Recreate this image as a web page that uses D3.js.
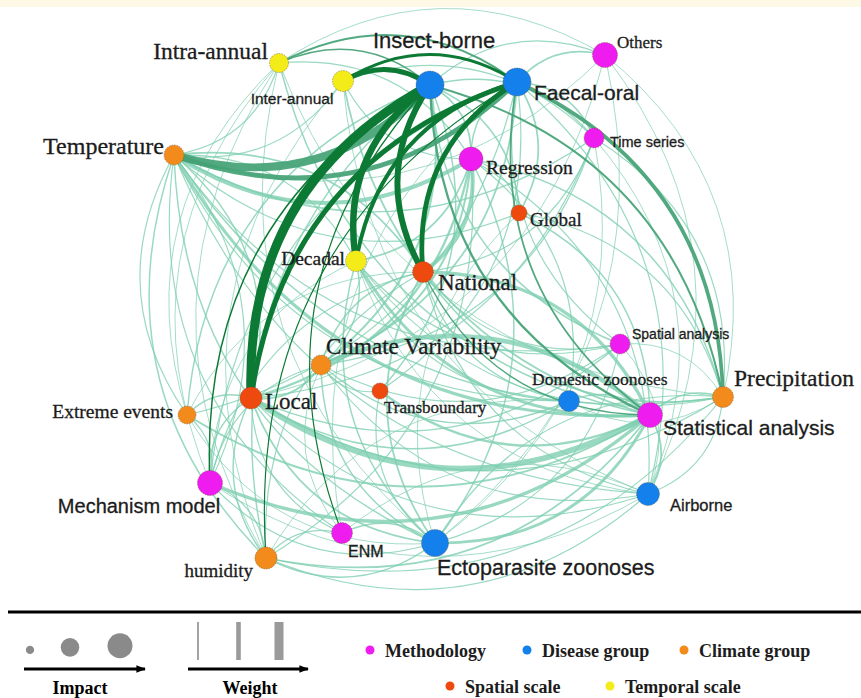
<!DOCTYPE html>
<html>
<head>
<meta charset="utf-8">
<script src="https://cdn.jsdelivr.net/npm/d3@7"></script>
<style>
  html, body { margin: 0; padding: 0; background: #ffffff; }
  svg { display: block; }
</style>
</head>
<body>
<svg id="chart" width="861" height="698"></svg>
<script>
// ---- Nodes ----------------------------------------------------------------
const nodeIds = ["IA","ER","IB","FO","OT","TS","RG","GL","TP","DC","NA","CV",
                 "LO","TB","EE","DZ","SA","PR","ST","AB","MM","EN","EZ","HU"];
const nodeNames = ["Intra-annual","Inter-annual","Insect-borne","Faecal-oral","Others",
  "Time series","Regression","Global","Temperature","Decadal","National",
  "Climate Variability","Local","Transboundary","Extreme events","Domestic zoonoses",
  "Spatial analysis","Precipitation","Statistical analysis","Airborne",
  "Mechanism model","ENM","Ectoparasite zoonoses","humidity"];
const nodeGroups = ["Temporal","Temporal","Disease","Disease","Method","Method","Method",
  "Spatial","Climate","Temporal","Spatial","Climate","Spatial","Spatial","Climate",
  "Disease","Method","Climate","Method","Disease","Method","Method","Disease","Climate"];
// impact of each node (drives the circle area)
const nodeImpact = [46,56,100,100,80,51,73,33,51,56,56,51,62,33,41,56,51,56,80,67,80,56,93,62];
// force-layout coordinates
const layoutX = [-322,-194,-20,154,330,308,62,158,-532,-168,-34,-238,
                 -378,-120,-506,258,360,566,420,416,-460,-196,-10,-348];
const layoutY = [494,458,450,456,510,344,302,194,310,98,76,-110,
                 -176,-162,-210,-182,-68,-174,-210,-368,-346,-446,-466,-496];

// ---- Links: [source, target, weight, class] (class 3 = strongest) --------
const links = [
  // strongest links
  ["LO","IB",30,3],["DC","IB",21,3],["NA","IB",19,3],["LO","FO",16,3],["NA","FO",15,3],
  ["DC","FO",12,3],["ER","IB",15,3],["ER","FO",8,3],["MM","IB",3,3],["EN","IB",2,3],
  ["HU","FO",2,3],
  // intermediate links
  ["IB","TP",26,2],["FO","TP",15,2],["FO","PR",11,2],["IB","PR",5,2],["ST","IB",6,2],
  ["ST","FO",4,2],["IA","FO",4,2],["IA","IB",3,2],["ST","NA",3,2],
  // Statistical analysis
  ["ST","LO",18,1],["CV","ST",14,1],["ST","MM",10,1],["ST","TP",9,1],["ST","EZ",8,1],
  ["NA","ST",10,1],["ST","DC",8,1],["ST","TB",6,1],["ST","EE",5,1],["ST","HU",4,1],
  ["ST","ER",4,1],["ST","IA",3,1],["DZ","ST",3,1],["ST","AB",4,1],["ST","PR",3,1],
  ["GL","ST",3,1],
  // Regression
  ["RG","NA",12,1],["RG","LO",6,1],["RG","CV",5,1],["RG","TP",12,1],["RG","DC",4,1],
  ["IB","RG",4,1],["RG","FO",3,1],["RG","EZ",3,1],["RG","PR",3,1],["RG","HU",2,1],
  ["RG","ER",2,1],["IA","RG",2,1],["RG","GL",2,1],["RG","DZ",2,1],["RG","AB",2,1],
  // Time series
  ["FO","TS",4,1],["IB","TS",3,1],["TS","TP",3,1],["TS","LO",2,1],["TS","NA",2,1],
  ["TS","PR",2,1],["TS","CV",2,1],["ER","TS",2,1],["TS","AB",1,1],["TS","EZ",1,1],
  // Others
  ["FO","OT",4,1],["IB","OT",2,1],["OT","AB",1,1],["OT","LO",1,1],["OT","TP",1,1],
  ["OT","PR",1,1],["OT","EZ",1,1],["IA","OT",1,1],
  // Spatial analysis
  ["SA","IB",3,1],["SA","FO",2,1],["SA","LO",3,1],["SA","NA",2,1],["SA","CV",2,1],
  ["SA","TP",2,1],["SA","EZ",2,1],["SA","PR",1,1],["SA","AB",1,1],["SA","DC",2,1],
  // Mechanism model
  ["MM","FO",2,1],["MM","LO",3,1],["TP","MM",2,1],["EE","MM",2,1],["MM","HU",2,1],
  ["MM","CV",2,1],["EZ","MM",2,1],["AB","MM",1,1],["MM","IA",1,1],["MM","DC",1,1],
  ["MM","NA",2,1],
  // ENM
  ["EN","EZ",3,1],["EN","LO",2,1],["HU","EN",2,1],["EN","TP",2,1],["EN","CV",1,1],
  ["EN","FO",1,1],["EN","AB",1,1],
  // disease groups
  ["EZ","LO",4,1],["EZ","CV",3,1],["EZ","TP",3,1],["EZ","HU",3,1],["EZ","NA",4,1],
  ["EZ","DC",3,1],["EZ","PR",2,1],["EZ","EE",1,1],["EZ","TB",2,1],["EZ","GL",1,1],
  ["EZ","IA",1,1],
  ["AB","LO",2,1],["AB","TP",2,1],["AB","HU",2,1],["AB","CV",2,1],["AB","NA",2,1],
  ["PR","AB",2,1],["AB","DC",1,1],["AB","ER",1,1],["FO","AB",2,1],
  ["DZ","LO",3,1],["DZ","CV",3,1],["DZ","TP",2,1],["DZ","NA",2,1],["PR","DZ",1,1],
  ["HU","DZ",1,1],["DZ","DC",2,1],
  ["IB","CV",5,1],["HU","IB",3,1],["EE","IB",3,1],["IB","GL",3,1],["IB","TB",3,1],
  ["FO","CV",4,1],["FO","EE",2,1],["FO","GL",4,1],["FO","TB",2,1],
  // climate with spatial / temporal scales
  ["TP","LO",3,1],["TP","NA",4,1],["TP","DC",2,1],["IA","TP",2,1],["ER","TP",2,1],
  ["CV","LO",5,1],["CV","NA",3,1],["DC","CV",3,1],["PR","LO",3,1],["PR","NA",3,1],
  ["PR","DC",2,1],["HU","LO",3,1],["HU","NA",2,1],["EE","LO",3,1],["EE","NA",1,1],
  ["PR","IA",1,1],["HU","ER",1,1],["TB","CV",2,1],["GL","TP",2,1],["GL","PR",2,1],
  ["EE","IA",1,1],["HU","IA",1,1],
  // climate with climate
  ["HU","TP",3,1],["PR","TP",3,1],["EE","TP",2,1],["PR","HU",2,1]
];

// ---- Legend content --------------------------------------------------------
const groupKeys   = ["Method","Disease","Climate","Spatial","Temporal"];
const groupLabels = ["Methodology","Disease group","Climate group","Spatial scale","Temporal scale"];
const impactSteps = [8, 40, 73];
const weightSteps = [3, 12, 26];

// ---- Styles ----------------------------------------------------------------
const groupColor = d3.scaleOrdinal().domain(groupKeys)
  .range(["#ee1cee","#1480ec","#f28a1c","#ee4a10","#f4ec18"]);
const linkColor = d3.scaleOrdinal().domain([1,2,3]).range(["#7cceb0","#43a275","#0c7a34"]);
const linkOpacity = d3.scaleOrdinal().domain([1,2,3]).range([0.78,0.92,1]);
const SERIF = "'Liberation Serif','Times New Roman',serif";
const SANS  = "'Liberation Sans',Arial,sans-serif";
// label placement: [dx, dy, anchor, family, size]
const labelStyle = {
  IA:[-11,-4,"end",SERIF,23.5], ER:[-51,23,"middle",SANS,15.5], IB:[-57,-37,"start",SANS,22],
  FO:[17,18,"start",SANS,21], OT:[12,-7,"start",SERIF,17], TS:[16,9,"start",SANS,14.5],
  RG:[15,15,"start",SERIF,19.5], GL:[11,13,"start",SERIF,19], TP:[-10,-1,"end",SERIF,24],
  DC:[-11,4,"end",SERIF,19.5], NA:[15,18,"start",SERIF,23], CV:[5,-11,"start",SERIF,23],
  LO:[14,11,"start",SERIF,23], TB:[4,22,"start",SERIF,17], EE:[-14,3,"end",SERIF,19.5],
  DZ:[-37,-16,"start",SERIF,17.5], SA:[12,-5,"start",SANS,14], PR:[11,-11,"start",SERIF,23.5],
  ST:[13,20,"start",SANS,21], AB:[22,17,"start",SANS,16.5], MM:[-71,30,"middle",SANS,20],
  EN:[6,24,"start",SANS,16], EZ:[2,32,"start",SANS,21.5], HU:[-13,19,"end",SERIF,19]
};

// ---- Scales ----------------------------------------------------------------
const svg = d3.select("#chart");
const x = d3.scaleLinear().domain([-880, 842]).range([0, 861]);
const y = d3.scaleLinear().domain([620, -776]).range([0, 698]);
const r = d3.scaleSqrt().domain([0, 100]).range([0, 14]);
const w = d3.scaleLinear().domain([1, 30]).range([0.9, 9]);

const nodes = nodeIds.map((id, i) => ({
  id, name: nodeNames[i], group: nodeGroups[i], impact: nodeImpact[i],
  px: x(layoutX[i]), py: y(layoutY[i])
}));
const byId = new Map(nodes.map(n => [n.id, n]));

// top band
svg.append("rect").attr("x", 0).attr("y", 0).attr("width", 861).attr("height", 7)
  .attr("fill", "#fdf9e6");

// ---- Links (curved clockwise from source to target) -----------------------
const linkData = links.map(([s, t, wt, c]) => ({ s: byId.get(s), t: byId.get(t), wt, c }))
  .sort((a, b) => a.c - b.c || a.wt - b.wt);

function curve(d) {
  const x1 = d.s.px, y1 = d.s.py, x2 = d.t.px, y2 = d.t.py;
  const dx = x2 - x1, dy = y2 - y1, k = 0.31;
  const cx = (x1 + x2) / 2 + dy * k, cy = (y1 + y2) / 2 - dx * k;
  return `M${x1},${y1}Q${cx},${cy} ${x2},${y2}`;
}

svg.append("g").attr("fill", "none").attr("stroke-linecap", "round")
  .selectAll("path").data(linkData).join("path")
  .attr("d", curve)
  .attr("stroke", d => linkColor(d.c))
  .attr("stroke-opacity", d => linkOpacity(d.c))
  .attr("stroke-width", d => w(d.wt));

// ---- Nodes -----------------------------------------------------------------
svg.append("g").selectAll("circle").data(nodes).join("circle")
  .attr("cx", d => d.px).attr("cy", d => d.py).attr("r", d => r(d.impact))
  .attr("fill", d => groupColor(d.group))
  .attr("stroke", "#5b4a28").attr("stroke-opacity", 0.55)
  .attr("stroke-width", 0.8).attr("stroke-dasharray", "1.6,1");

// ---- Labels ----------------------------------------------------------------
svg.append("g").attr("fill", "#1c1c1c")
  .attr("stroke", "#1c1c1c").attr("stroke-width", 0.3)
  .selectAll("text").data(nodes).join("text")
  .attr("x", d => d.px + labelStyle[d.id][0])
  .attr("y", d => d.py + labelStyle[d.id][1])
  .attr("text-anchor", d => labelStyle[d.id][2])
  .attr("font-family", d => labelStyle[d.id][3])
  .attr("font-size", d => labelStyle[d.id][4])
  .text(d => d.name);

// ---- Legend ----------------------------------------------------------------
const lg = svg.append("g");
lg.append("line").attr("x1", 8).attr("x2", 861).attr("y1", 612).attr("y2", 612)
  .attr("stroke", "#000").attr("stroke-width", 3);

const defs = svg.append("defs");
defs.append("marker").attr("id", "arrow").attr("viewBox", "0 0 10 10")
  .attr("refX", 9).attr("refY", 5).attr("markerWidth", 3).attr("markerHeight", 3)
  .attr("orient", "auto")
  .append("path").attr("d", "M0,1L10,5L0,9Z").attr("fill", "#000");

const impR = d3.scaleSqrt().domain([0, 73]).range([0, 12.5]);
const impX = [30, 70, 120];
lg.selectAll("circle.imp").data(impactSteps).join("circle")
  .attr("cx", (d, i) => impX[i])
  .attr("cy", d => 652 - impR(d) * 0.5)
  .attr("r", d => impR(d)).attr("fill", "#8a8a8a");

const wX = d3.scalePoint().domain(weightSteps).range([198, 279]);
const wW = d3.scaleLinear().domain([3, 26]).range([1.8, 9]);
lg.selectAll("rect.wt").data(weightSteps).join("rect")
  .attr("x", d => wX(d) - wW(d) / 2).attr("width", d => wW(d))
  .attr("y", 622).attr("height", 38).attr("fill", "#9a9a9a");

[[24, 145], [188, 308]].forEach(([a, b]) => {
  lg.append("line").attr("x1", a).attr("x2", b).attr("y1", 669).attr("y2", 669)
    .attr("stroke", "#000").attr("stroke-width", 3.2).attr("marker-end", "url(#arrow)");
});
lg.append("text").attr("x", 80).attr("y", 694).attr("text-anchor", "middle")
  .attr("font-family", SERIF).attr("font-weight", "bold").attr("font-size", 18).text("Impact");
lg.append("text").attr("x", 250).attr("y", 694).attr("text-anchor", "middle")
  .attr("font-family", SERIF).attr("font-weight", "bold").attr("font-size", 18).text("Weight");

const keyPos = [[370, 650], [527, 650], [684, 650], [450, 686], [610, 686]];
const keys = lg.selectAll("g.key").data(groupKeys).join("g")
  .attr("transform", (d, i) => `translate(${keyPos[i][0]},${keyPos[i][1]})`);
keys.append("circle").attr("r", 4.5).attr("fill", d => groupColor(d));
keys.append("text").attr("x", 15).attr("y", 7)
  .attr("font-family", SERIF).attr("font-weight", "bold").attr("font-size", 18)
  .attr("fill", "#1c1c1c")
  .text((d, i) => groupLabels[i]);
</script>
</body>
</html>
